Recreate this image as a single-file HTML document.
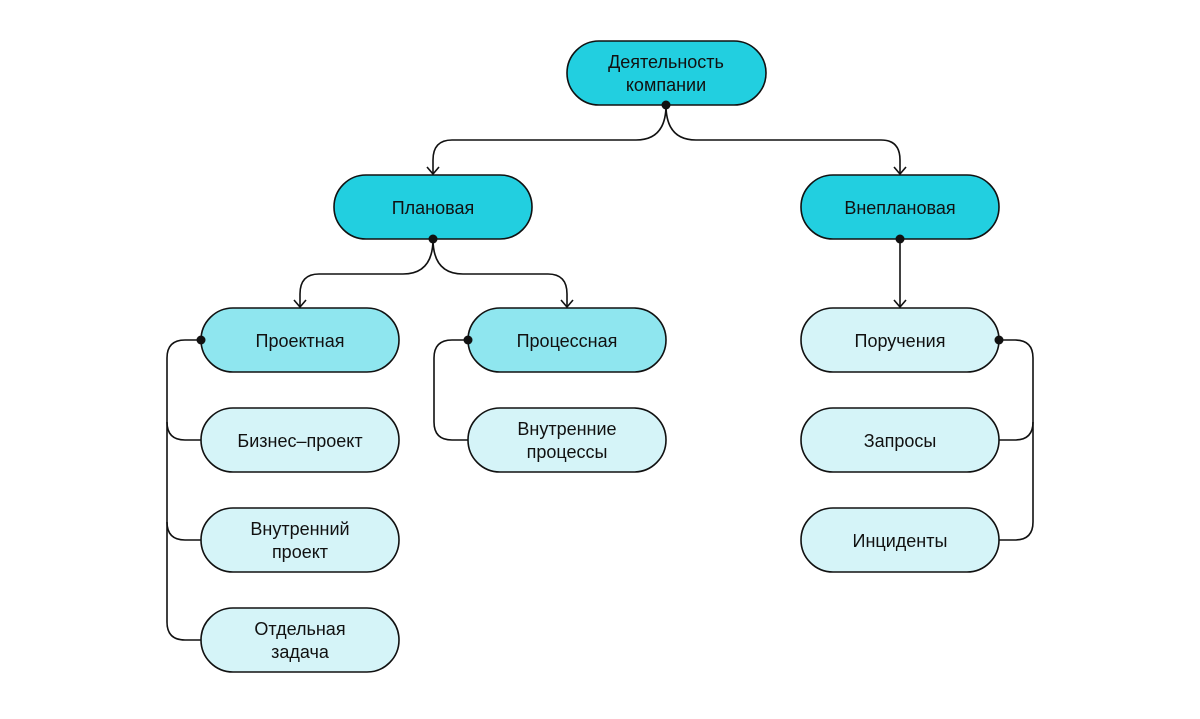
<!DOCTYPE html>
<html><head><meta charset="utf-8"><style>
body{margin:0;background:#fff}
svg text{font-family:"Liberation Sans",sans-serif;font-size:18px;fill:#111;text-anchor:middle}
</style></head><body>
<svg width="1200" height="714" viewBox="0 0 1200 714" xmlns="http://www.w3.org/2000/svg">
<g fill="none" stroke="#111" stroke-width="1.6">
<path d="M666 105 Q666 140 636 140 L452 140 Q433 140 433 160 L433 174"/>
<path d="M666 105 Q666 140 696 140 L881 140 Q900 140 900 160 L900 174"/>
<path d="M427 167 L433 174 L439 167"/>
<path d="M894 167 L900 174 L906 167"/>
<path d="M433 239 Q433 274 403 274 L319 274 Q300 274 300 294 L300 307"/>
<path d="M433 239 Q433 274 463 274 L548 274 Q567 274 567 294 L567 307"/>
<path d="M294 300 L300 307 L306 300"/>
<path d="M561 300 L567 307 L573 300"/>
<path d="M900 239 L900 307"/>
<path d="M894 300 L900 307 L906 300"/>
<path d="M201 340 L185 340 Q167 340 167 358 L167 622 Q167 640 185 640 L201 640"/>
<path d="M167 422 Q167 440 185 440 L201 440"/>
<path d="M167 522 Q167 540 185 540 L201 540"/>
<path d="M468 340 L452 340 Q434 340 434 358 L434 422 Q434 440 452 440 L468 440"/>
<path d="M999 340 L1015 340 Q1033 340 1033 358 L1033 522 Q1033 540 1015 540 L999 540"/>
<path d="M1033 422 Q1033 440 1015 440 L999 440"/>
</g>
<g stroke="#111" stroke-width="1.6">
<rect x="567" y="41" width="199" height="64" rx="32" fill="#22cfe0"/>
<rect x="334" y="175" width="198" height="64" rx="32" fill="#22cfe0"/>
<rect x="801" y="175" width="198" height="64" rx="32" fill="#22cfe0"/>
<rect x="201" y="308" width="198" height="64" rx="32" fill="#8fe6ef"/>
<rect x="468" y="308" width="198" height="64" rx="32" fill="#8fe6ef"/>
<rect x="201" y="408" width="198" height="64" rx="32" fill="#d5f4f8"/>
<rect x="201" y="508" width="198" height="64" rx="32" fill="#d5f4f8"/>
<rect x="201" y="608" width="198" height="64" rx="32" fill="#d5f4f8"/>
<rect x="468" y="408" width="198" height="64" rx="32" fill="#d5f4f8"/>
<rect x="801" y="308" width="198" height="64" rx="32" fill="#d5f4f8"/>
<rect x="801" y="408" width="198" height="64" rx="32" fill="#d5f4f8"/>
<rect x="801" y="508" width="198" height="64" rx="32" fill="#d5f4f8"/>
</g>
<g fill="#111">
<circle cx="666" cy="105" r="4.5"/><circle cx="433" cy="239" r="4.5"/><circle cx="900" cy="239" r="4.5"/>
<circle cx="201" cy="340" r="4.5"/><circle cx="468" cy="340" r="4.5"/><circle cx="999" cy="340" r="4.5"/>
</g>
<text x="666" y="68">Деятельность</text><text x="666" y="91">компании</text>
<text x="433" y="214">Плановая</text>
<text x="900" y="214">Внеплановая</text>
<text x="300" y="347">Проектная</text>
<text x="567" y="347">Процессная</text>
<text x="300" y="447">Бизнес–проект</text>
<text x="300" y="535">Внутренний</text><text x="300" y="558">проект</text>
<text x="300" y="635">Отдельная</text><text x="300" y="658">задача</text>
<text x="567" y="435">Внутренние</text><text x="567" y="458">процессы</text>
<text x="900" y="347">Поручения</text>
<text x="900" y="447">Запросы</text>
<text x="900" y="547">Инциденты</text>
</svg>
</body></html>
